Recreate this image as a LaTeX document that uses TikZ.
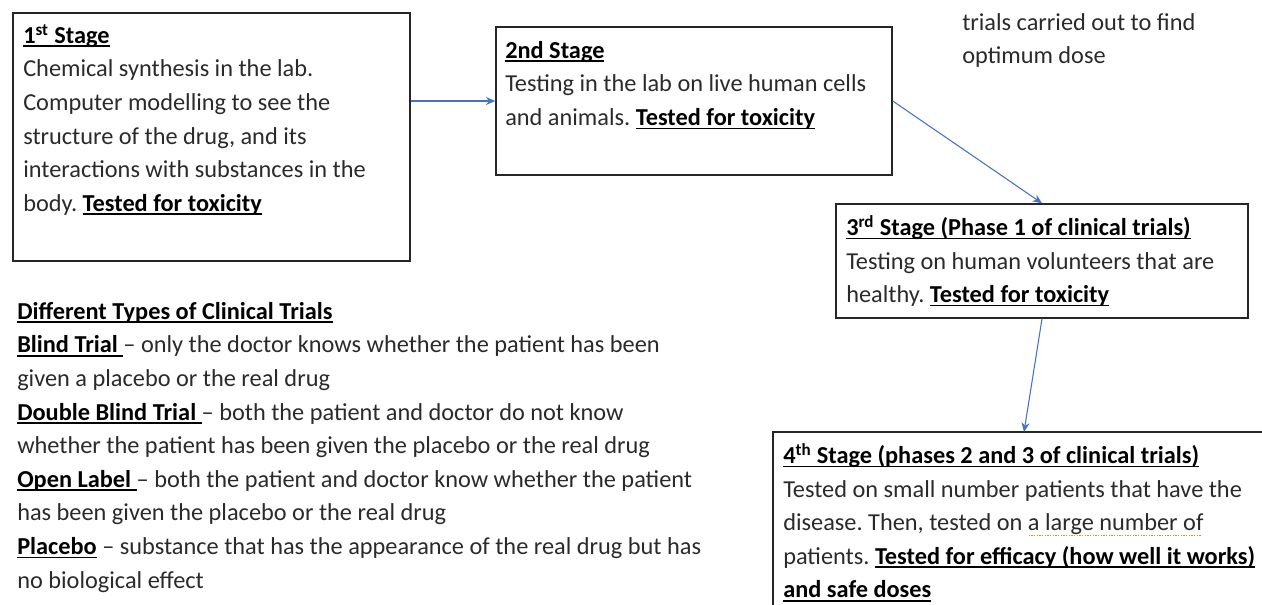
\documentclass[tikz,border=0pt]{standalone}
\usepackage{fontspec}
\setmainfont{Carlito}
\usetikzlibrary{arrows.meta}
\definecolor{arrowblue}{HTML}{4472C4}
\definecolor{bodytxt}{HTML}{2A2A2A}
\definecolor{spell}{HTML}{C8902E}
\newcommand\bu[1]{{\color{black}\bfseries\setbox0\hbox{#1}\rlap{\rule[-2.7pt]{\wd0}{1.2pt}}\box0}}
\newcommand\spellmark[1]{{\setbox0\hbox{#1}\rlap{\color{spell}\leaders\hbox to 2pt{\hss\rule[-3.8pt]{1pt}{1pt}\hss}\hskip\wd0}\box0}}
\begin{document}
\frenchspacing
\begin{tikzpicture}[x=0.75pt,y=-0.75pt,
  box/.style={draw=black!85, line width=1.1pt, inner sep=0pt},
  txt/.style={anchor=north west, inner sep=0pt, align=left, font=\fontsize{18.25}{25.2}\selectfont\frenchspacing, text=bodytxt},
  arr/.style={draw=arrowblue, line width=0.8pt, -{Stealth[length=7pt,width=6pt]}}]
\useasboundingbox (0,0) rectangle (1262,605);
% boxes
\node[box, minimum width=297.75pt, minimum height=186pt] (s1) at (211.5,137) {};
\node[box, minimum width=297pt, minimum height=111pt] (s2) at (694,101) {};
\node[box, minimum width=309pt, minimum height=85.5pt] (s3) at (1042,261) {};
\draw[black!85, line width=1.1pt] (773,606) |- (1263,432);
\coordinate (s4top) at (1024,432);
% texts
\node[txt] (t1) at (23,24) {\bu{1\textsuperscript{st} Stage}\\
Chemical synthesis in the lab.\\
Computer modelling to see the\\
structure of the drug, and its\\
interactions with substances in the\\
body. \bu{Tested for toxicity}};
\node[txt] (t2) at (505,41) {\bu{2nd Stage}\\
Testing in the lab on live human cells\\
and animals. \bu{Tested for toxicity}};
\node[txt] (t3) at (846,215) {\bu{3\textsuperscript{rd} Stage (Phase 1 of clinical trials)}\\
Testing on human volunteers that are\\
healthy. \bu{Tested for toxicity}};
\node[txt] (t4) at (783,443) {\bu{4\textsuperscript{th} Stage (phases 2 and 3 of clinical trials)}\\
Tested on small number patients that have the\\
disease. Then, tested on \spellmark{a large number of}\\
patients. \bu{Tested for efficacy (how well it works)}\\
\bu{and safe doses}};
\node[txt] (tr) at (962,13) {trials carried out to find\\
optimum dose};
\node[txt] (tl) at (17,302) {\bu{Different Types of Clinical Trials}\\
\bu{Blind Trial\ }-- only the doctor knows whether the patient has been\\
given a placebo or the real drug\\
\bu{Double Blind Trial\ }-- both the patient and doctor do not know\\
whether the patient has been given the placebo or the real drug\\
\bu{Open Label\ }-- both the patient and doctor know whether the patient\\
has been given the placebo or the real drug\\
\bu{Placebo} -- substance that has the appearance of the real drug but has\\
no biological effect};
% arrows
\draw[arr] (s1.east |- s2.west) -- (s2.west);
\draw[arr] (s2.east) -- (s3.north);
\draw[arr] (s3.south) -- (s4top);
\end{tikzpicture}
\end{document}
